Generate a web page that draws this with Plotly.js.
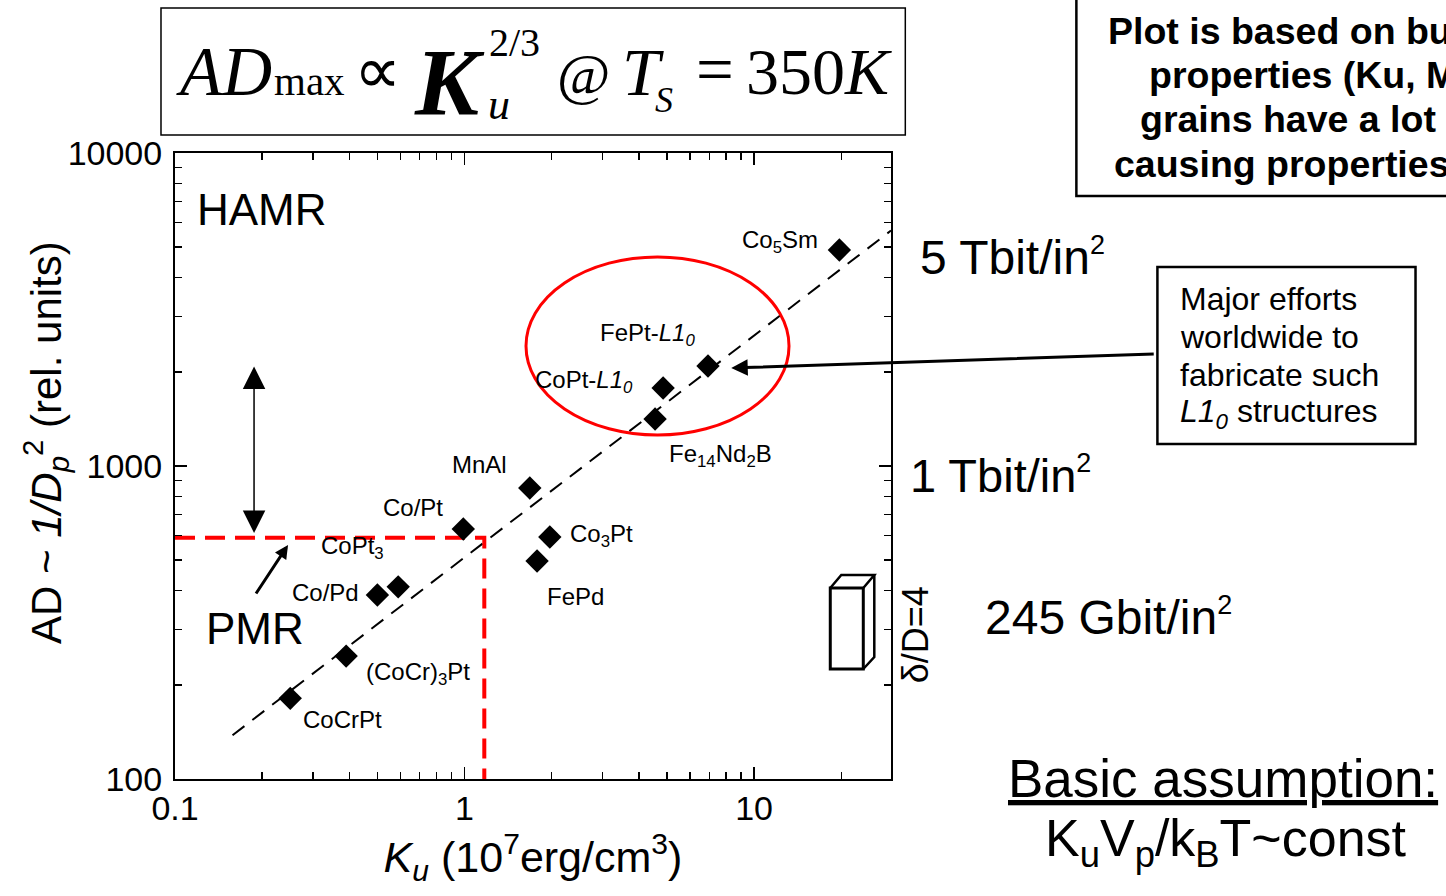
<!DOCTYPE html>
<html>
<head>
<meta charset="utf-8">
<script src="https://cdn.plot.ly/plotly-3.0.1.min.js"></script>
<style>
  html, body { margin: 0; padding: 0; background: #fff; }
  #chart { width: 1446px; height: 896px; }
</style>
</head>
<body>
<div id="chart"></div>
<script>
// Magnetic materials: uniaxial anisotropy Ku (10^7 erg/cm^3) vs. achievable areal density
const materials = ['CoCrPt', '(CoCr)3Pt', 'Co/Pd', 'CoPt3', 'Co/Pt', 'MnAl', 'FePd', 'Co3Pt',
                   'Fe14Nd2B', 'CoPt-L10', 'FePt-L10', 'Co5Sm'];
const materialLabels = ['CoCrPt', '(CoCr)<sub>3</sub>Pt', 'Co/Pd', 'CoPt<sub>3</sub>', 'Co/Pt', 'MnAl',
                        'FePd', 'Co<sub>3</sub>Pt', 'Fe<sub>14</sub>Nd<sub>2</sub>B',
                        'CoPt-<i>L1<sub>0</sub></i>', 'FePt-<i>L1<sub>0</sub></i>', 'Co<sub>5</sub>Sm'];
const anisotropyKu = [0.25, 0.39, 0.50, 0.59, 0.99, 1.68, 1.78, 1.97, 4.55, 4.85, 6.93, 19.7];
const arealDensity = [181, 247, 387, 411, 629, 851, 497, 593, 1413, 1775, 2086, 4898];

// AD ~ Ku^(2/3) scaling guide
const scalingKu = [0.158, 29.7];
const scalingAD = [138, 5650];

// PMR limit
const pmrLimitKu = 1.17;
const pmrLimitAD = 590;

// Double arrow between PMR limit and HAMR region
const gapArrowKu = 0.1875;
const gapArrowAD = [611, 2104];

// Ellipse around the L1_0 compounds
const l10RegionKu = [1.63, 13.2];
const l10RegionAD = [1256, 4656];

// Axis ticks
const xTickVals = [0.1, 1, 10];
const xTickText = ['0.1', '1', '10'];
const xMinorVals = [0.2, 0.3, 0.4, 0.5, 0.6, 0.7, 0.8, 0.9, 2, 3, 4, 5, 6, 7, 8, 9, 20];
const yTickVals = [100, 1000, 10000];
const yTickText = ['100', '1000', '10000'];
const yMinorVals = [200, 300, 400, 500, 600, 700, 800, 900, 2000, 3000, 4000, 5000, 6000, 7000, 8000, 9000];

// Label placement relative to each marker: [anchor, dx, dy] in pixels (dy downward)
const labelPlacement = [
  ['left', 11, 21], ['left', 18, 17], ['right', -16, -3], ['left', -79, -39],
  ['right', -18, -22], ['right', -21, -23], ['left', 8, 35], ['left', 18, -2],
  ['left', 12, 36], ['left', -130, -7], ['left', -110, -32], ['right', -19, -9]
];

const SANS = '"Liberation Sans", Arial, Helvetica, sans-serif';
const SERIF = '"Liberation Serif", "Times New Roman", Times, serif';

// Plot frame in page pixels, used to place decorations outside the axes
const FRAME = { l: 175, t: 153, r: 890.7, b: 779, w: 1446, h: 896 };
const px = x => (x - FRAME.l) / (FRAME.r - FRAME.l);
const py = y => (FRAME.b - y) / (FRAME.b - FRAME.t);
const lg = Math.log10;

const traces = [
  {
    x: scalingKu, y: scalingAD, mode: 'lines', type: 'scatter',
    line: { color: '#000', width: 2, dash: '15px,10px' }, hoverinfo: 'skip'
  },
  {
    x: [0.1, pmrLimitKu, pmrLimitKu], y: [pmrLimitAD, pmrLimitAD, 100],
    mode: 'lines', type: 'scatter',
    line: { color: '#ff0000', width: 4, dash: '20px,10px' }, hoverinfo: 'skip'
  },
  {
    x: anisotropyKu, y: arealDensity, text: materials, mode: 'markers', type: 'scatter',
    marker: { symbol: 'diamond', size: 18, color: '#000', line: { width: 0 } }
  }
];

const annotations = [];

// Material labels
materials.forEach((m, i) => {
  const [anchor, dx, dy] = labelPlacement[i];
  annotations.push({
    xref: 'x', yref: 'y', x: lg(anisotropyKu[i]), y: lg(arealDensity[i]),
    text: materialLabels[i], showarrow: false, xanchor: anchor, yanchor: 'middle',
    xshift: dx, yshift: -dy, font: { family: SANS, size: 24, color: '#000' }
  });
});

// Vertical axis title
annotations.push({ xref: 'paper', yref: 'paper', x: px(46), y: py(442), xanchor: 'center', yanchor: 'middle',
  textangle: -90, text: 'AD ~ <i>1/D<sub>p</sub></i><sup>2</sup> (rel. units)', showarrow: false,
  font: { family: SANS, size: 42, color: '#000' } });

// Region names
annotations.push({ xref: 'paper', yref: 'paper', x: px(195), y: py(209), xanchor: 'left', yanchor: 'middle',
  text: 'HAMR', showarrow: false, font: { family: SANS, size: 44, color: '#000' } });
annotations.push({ xref: 'paper', yref: 'paper', x: px(204), y: py(628), xanchor: 'left', yanchor: 'middle',
  text: 'PMR', showarrow: false, font: { family: SANS, size: 44, color: '#000' } });

// Double-headed arrow
annotations.push({ xref: 'x', yref: 'y', x: lg(gapArrowKu), y: lg(gapArrowAD[0]),
  axref: 'x', ayref: 'y', ax: lg(gapArrowKu), ay: lg(gapArrowAD[1]), text: '',
  showarrow: true, arrowhead: 2, startarrowhead: 2, arrowside: 'end+start',
  arrowwidth: 1.5, arrowsize: 3, startarrowsize: 3, arrowcolor: '#000', standoff: 0, startstandoff: 0 });

// PMR pointer
annotations.push({ xref: 'paper', yref: 'paper', x: px(288), y: py(545), ax: -33, ay: 50,
  text: '', showarrow: true, arrowhead: 2, arrowwidth: 3, arrowsize: 0.9, arrowcolor: '#000', standoff: 0 });

// Pointer from the note to FePt-L1_0
annotations.push({ xref: 'paper', yref: 'paper', x: px(731), y: py(368), ax: 424, ay: -14,
  text: '', showarrow: true, arrowhead: 2, arrowwidth: 3, arrowsize: 1.1, arrowcolor: '#000', standoff: 0 });

// Density labels
const bigSans = { family: SANS, size: 48, color: '#000' };
const sq = '<span style="font-size:27px">2</span>';
annotations.push({ xref: 'paper', yref: 'paper', x: px(918), y: py(257), xanchor: 'left', yanchor: 'middle',
  text: '5 Tbit/in<sup>' + sq + '</sup>', showarrow: false, font: bigSans });
annotations.push({ xref: 'paper', yref: 'paper', x: px(908), y: py(475), xanchor: 'left', yanchor: 'middle',
  text: '1 Tbit/in<sup>' + sq + '</sup>', showarrow: false, font: { family: SANS, size: 47, color: '#000' } });
annotations.push({ xref: 'paper', yref: 'paper', x: px(983), y: py(617), xanchor: 'left', yanchor: 'middle',
  text: '245 Gbit/in<sup>' + sq + '</sup>', showarrow: false, font: bigSans });

// Aspect ratio of the grain
annotations.push({ xref: 'paper', yref: 'paper', x: px(915), y: py(635), xanchor: 'center', yanchor: 'middle',
  textangle: -90, text: '\u03b4/D=4', showarrow: false, font: { family: SANS, size: 36, color: '#000' } });

// Basic assumption
annotations.push({ xref: 'paper', yref: 'paper', x: px(1006), y: py(778), xanchor: 'left', yanchor: 'middle',
  text: '<u>Basic assumption:</u>', showarrow: false, font: { family: SANS, size: 53, color: '#000' } });
annotations.push({ xref: 'paper', yref: 'paper', x: px(1043), y: py(842), xanchor: 'left', yanchor: 'middle',
  text: 'K<sub>u</sub>V<sub>p</sub>/k<sub>B</sub>T~const', showarrow: false,
  font: { family: SANS, size: 52, color: '#000' } });

// Note on the L1_0 efforts
const noteLines = ['Major efforts', 'worldwide to', 'fabricate such', '<i>L1<sub>0</sub></i> structures'];
const noteY = [299, 337, 375, 413];
noteLines.forEach((t, i) => annotations.push({ xref: 'paper', yref: 'paper', x: px(1178), y: py(noteY[i]),
  xanchor: 'left', yanchor: 'middle', text: t, showarrow: false, font: { family: SANS, size: 32, color: '#000' } }));

// Caveat box (runs off the right edge)
const caveatLines = ['Plot is based on bulk', 'properties (Ku, Ms),', 'grains have a lot of', 'causing properties'];
const caveatX = [1106, 1147, 1138, 1112];
const caveatY = [31, 75, 119, 164];
caveatLines.forEach((t, i) => annotations.push({ xref: 'paper', yref: 'paper', x: px(caveatX[i]), y: py(caveatY[i]),
  xanchor: 'left', yanchor: 'middle', text: '<b>' + t + '</b>', showarrow: false,
  font: { family: SANS, size: 37.5, color: '#000' } }));

// Scaling law: AD_max ∝ Ku^(2/3) @ T_S = 350K
const formula = [
  ['<i>AD</i>', 174, 72, 69],
  ['max', 272, 81, 41],
  ['\u221d', 352, 70, 66],
  ['<b><i>K</i></b>', 412, 82, 96],
  ['<i>u</i>', 486, 105, 44],
  ['2/3', 487, 42, 40],
  ['@', 555, 74, 58],
  ['<i>T</i>', 620, 72, 68],
  ['<i>S</i>', 653, 100, 36],
  ['=', 694, 69, 67],
  ['350<i>K</i>', 744, 72, 66]
];
formula.forEach(([t, x, y, s]) => annotations.push({ xref: 'paper', yref: 'paper', x: px(x), y: py(y),
  xanchor: 'left', yanchor: 'middle', text: t, showarrow: false, font: { family: SERIF, size: s, color: '#000' } }));

const paperRect = (x0, y0, x1, y1, w) => ({ type: 'rect', xref: 'paper', yref: 'paper',
  x0: px(x0), x1: px(x1), y0: py(y1), y1: py(y0), line: { color: '#000', width: w }, fillcolor: 'rgba(0,0,0,0)' });
const paperPath = (pts, w) => ({ type: 'path', xref: 'paper', yref: 'paper',
  path: pts.map((p, i) => (i ? 'L' : 'M') + px(p[0]) + ',' + py(p[1])).join(''),
  line: { color: '#000', width: w }, fillcolor: 'rgba(0,0,0,0)' });

const shapes = [
  // L1_0 ellipse
  { type: 'circle', xref: 'x', yref: 'y', x0: l10RegionKu[0], x1: l10RegionKu[1],
    y0: l10RegionAD[0], y1: l10RegionAD[1], line: { color: '#ff0000', width: 3 } },
  // formula frame
  paperRect(161, 8, 905, 135, 1.5),
  // note frame
  paperRect(1157, 267, 1415, 444, 2.5),
  // caveat frame
  paperRect(1076, -10, 1500, 196, 2.5),
  // grain prism
  paperRect(830, 588, 863, 669, 3),
  paperPath([[830, 588], [841, 575], [874, 575], [863, 588]], 2.5),
  paperPath([[874, 575], [874, 657], [863, 669]], 2.5)
];

const layout = {
  width: FRAME.w, height: FRAME.h,
  margin: { l: FRAME.l, t: FRAME.t, r: FRAME.w - FRAME.r, b: FRAME.h - FRAME.b, pad: 0 },
  paper_bgcolor: '#fff', plot_bgcolor: '#fff',
  showlegend: false,
  font: { family: SANS, color: '#000' },
  xaxis: {
    type: 'log', range: [-1, lg(29.7)], showgrid: false, zeroline: false,
    showline: true, linecolor: '#000', linewidth: 2, mirror: 'ticks',
    ticks: 'inside', ticklen: 12, tickwidth: 1.5, tickcolor: '#000',
    tickmode: 'array', tickvals: xTickVals, ticktext: xTickText,
    tickfont: { family: SANS, size: 34, color: '#000' }, ticklabelstandoff: -2,
    minor: { tickmode: 'array', tickvals: xMinorVals, ticks: 'inside', ticklen: 7, tickwidth: 1.5, tickcolor: '#000', showgrid: false },
    title: { text: '<i>K<sub>u</sub></i> (10<sup>7</sup>erg/cm<sup>3</sup>)', font: { family: SANS, size: 43, color: '#000' }, standoff: 4 }
  },
  yaxis: {
    type: 'log', range: [2, 4], showgrid: false, zeroline: false,
    showline: true, linecolor: '#000', linewidth: 2, mirror: 'ticks',
    ticks: 'inside', ticklen: 12, tickwidth: 1.5, tickcolor: '#000',
    tickmode: 'array', tickvals: yTickVals, ticktext: yTickText,
    tickfont: { family: SANS, size: 34, color: '#000' }, ticklabelstandoff: 4,
    minor: { tickmode: 'array', tickvals: yMinorVals, ticks: 'inside', ticklen: 7, tickwidth: 1.5, tickcolor: '#000', showgrid: false },
    title: { text: '' }
  },
  annotations: annotations,
  shapes: shapes
};

Plotly.newPlot('chart', traces, layout, { displayModeBar: false, staticPlot: true });
</script>
</body>
</html>
